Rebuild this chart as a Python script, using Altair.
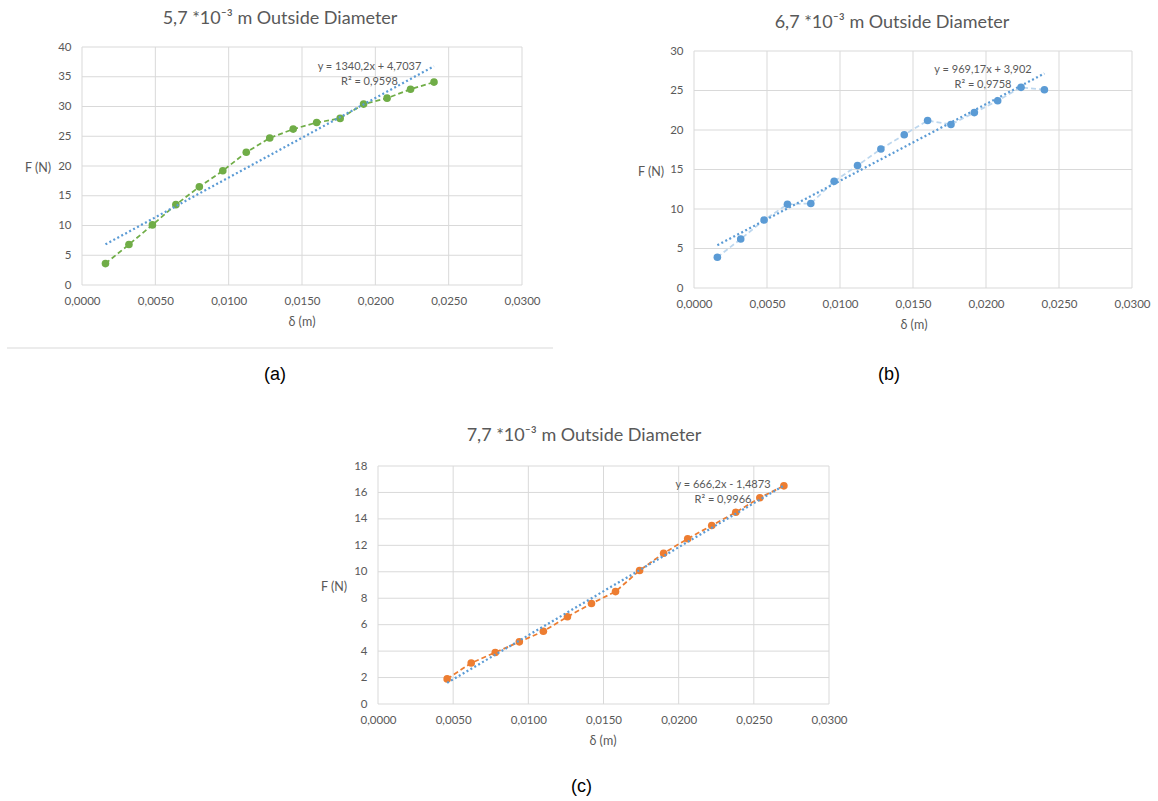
import altair as alt
import pandas as pd

# ---------------- data ----------------
x_a = [0.0016, 0.0032, 0.0048, 0.0064, 0.0080, 0.0096, 0.0112, 0.0128,
       0.0144, 0.0160, 0.0176, 0.0192, 0.0208, 0.0224, 0.0240]
f_a = [3.6, 6.8, 10.1, 13.5, 16.5, 19.2, 22.3, 24.7, 26.2, 27.3, 28.0,
       30.4, 31.4, 32.9, 34.1]

x_b = [0.0016, 0.0032, 0.0048, 0.0064, 0.0080, 0.0096, 0.0112, 0.0128,
       0.0144, 0.0160, 0.0176, 0.0192, 0.0208, 0.0224, 0.0240]
f_b = [3.9, 6.2, 8.6, 10.6, 10.7, 13.5, 15.5, 17.6, 19.4, 21.2, 20.7,
       22.2, 23.7, 25.4, 25.1]

x_c = [0.0046, 0.0062, 0.0078, 0.0094, 0.0110, 0.0126, 0.0142, 0.0158,
       0.0174, 0.0190, 0.0206, 0.0222, 0.0238, 0.0254, 0.0270]
f_c = [1.9, 3.1, 3.9, 4.7, 5.5, 6.6, 7.6, 8.5, 10.1, 11.4, 12.5, 13.5,
       14.5, 15.6, 16.5]

x_ticks = [0.0, 0.005, 0.010, 0.015, 0.020, 0.025, 0.030]
y_ticks_a = [0, 5, 10, 15, 20, 25, 30, 35, 40]
y_ticks_b = [0, 5, 10, 15, 20, 25, 30]
y_ticks_c = [0, 2, 4, 6, 8, 10, 12, 14, 16, 18]

titles = ["5,7 *10⁻³ m Outside Diameter",
          "6,7 *10⁻³ m Outside Diameter",
          "7,7 *10⁻³ m Outside Diameter"]
equations = [["y = 1340,2x + 4,7037", "R² = 0,9598"],
             ["y = 969,17x + 3,902", "R² = 0,9758"],
             ["y = 666,2x - 1,4873", "R² = 0,9966"]]
captions = ["(a)", "(b)", "(c)"]
x_title = "δ (m)"
y_title = "F (N)"

W, H = 1158, 801
FONT = "Lato"
GRAY = "#595959"
GRID = "#d9d9d9"
TREND = "#5b9bd5"

one = pd.DataFrame({"k": [0]})


def txt(s, px, py, size, color=GRAY, font=FONT):
    return alt.Chart(pd.DataFrame({"t": [s]})).mark_text(
        font=font, fontSize=size, color=color, align="center", baseline="middle"
    ).encode(x=alt.value(px), y=alt.value(py), text="t:N")


def panel(xs_, fs_, ymax, yticks, dot, link, xr, yr, title, title_xy, eq,
          eq_xy, cap, cap_xy, ytitle_xy, xtitle_xy):
    xs = alt.Scale(domain=[0, 0.03], range=xr, nice=False, zero=False)
    ys = alt.Scale(domain=[0, ymax], range=yr, nice=False, zero=False)
    df = pd.DataFrame({"x": xs_, "y": fs_})
    base = alt.Chart(df)

    vgrid = alt.Chart(pd.DataFrame({"v": x_ticks})).mark_rule(
        color=GRID, strokeWidth=1).encode(
        x=alt.X("v:Q", scale=xs, axis=alt.Axis(
            orient="bottom", offset=yr[0] - H, values=x_ticks, title=None,
            labelExpr="replace(format(datum.value, '.4f'), '.', ',')",
            grid=False, domain=False, ticks=False, labelFlush=False,
            labelPadding=10, labelFont=FONT, labelFontSize=11.5,
            labelColor=GRAY)),
        y=alt.YDatum(0, type="quantitative", scale=ys, axis=None),
        y2=alt.Y2Datum(ymax))
    hgrid = alt.Chart(pd.DataFrame({"v": yticks})).mark_rule(
        color=GRID, strokeWidth=1).encode(
        y=alt.Y("v:Q", scale=ys, axis=alt.Axis(
            orient="left", offset=-xr[0], values=yticks, title=None,
            format="d", grid=False, domain=False, ticks=False,
            labelFlush=False, labelPadding=11, labelFont=FONT,
            labelFontSize=11.5, labelColor=GRAY)),
        x=alt.XDatum(0.0, type="quantitative", scale=xs, axis=None),
        x2=alt.X2Datum(0.03))

    enc = dict(x=alt.X("x:Q", scale=xs, axis=None),
               y=alt.Y("y:Q", scale=ys, axis=None))
    line = base.mark_line(stroke=link, strokeWidth=1.75,
                          strokeDash=[5, 3]).encode(**enc)
    pts = base.mark_circle(size=58, color=dot, opacity=1).encode(**enc)
    trend = base.transform_regression("x", "y").mark_line(
        stroke=TREND, strokeWidth=2.25, strokeDash=[2, 2.5]).encode(**enc)

    return [vgrid, hgrid, line, pts, trend,
            txt(eq[0], eq_xy[0], eq_xy[1], 11),
            txt(eq[1], eq_xy[0], eq_xy[1] + 15, 11),
            txt(title, title_xy[0], title_xy[1], 18),
            txt(y_title, ytitle_xy[0], ytitle_xy[1], 12.5),
            txt(x_title, xtitle_xy[0], xtitle_xy[1], 12.5),
            txt(cap, cap_xy[0], cap_xy[1], 18, color="#000000",
                font="Liberation Sans")]


layers = []
layers += panel(x_a, f_a, 40, y_ticks_a, "#70ad47", "#70ad47",
                [82, 522], [285, 47], titles[0], (280, 19), equations[0],
                (369.5, 67), captions[0], (275, 375), (38, 168), (302, 322))
layers += panel(x_b, f_b, 30, y_ticks_b, "#5b9bd5", "#bdd7ee",
                [694, 1132], [288, 51], titles[1], (892, 22.5), equations[1],
                (983, 69.5), captions[1], (889, 375), (651, 171.5), (914, 325))
layers += panel(x_c, f_c, 18, y_ticks_c, "#ed7d31", "#ed7d31",
                [378, 829], [704, 466], titles[2], (584, 436), equations[2],
                (723, 485), captions[2], (581.5, 786.5), (334, 586.5),
                (603, 740.5))

sep = alt.Chart(one).mark_rule(color=GRID, strokeWidth=1).encode(
    x=alt.value(7), x2=alt.value(553), y=alt.value(348))
layers.append(sep)

chart = alt.layer(*layers).resolve_scale(
    x="independent", y="independent"
).resolve_axis(x="independent", y="independent").properties(
    width=W, height=H, padding=0, background="white",
    autosize=alt.AutoSizeParams(type="none")
).configure_view(stroke=None)

chart.save("out.html", embed_options={"renderer": "svg", "actions": False})
